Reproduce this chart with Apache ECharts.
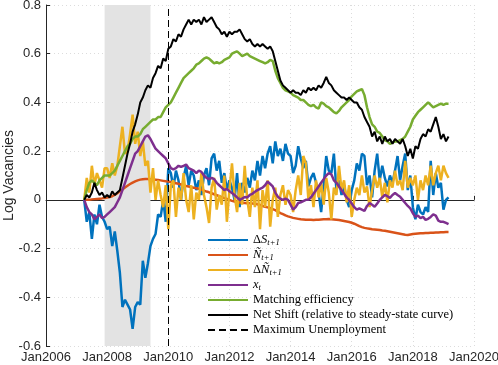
<!DOCTYPE html>
<html>
<head>
<meta charset="utf-8">
<script src="https://cdn.jsdelivr.net/npm/echarts@6/dist/echarts.min.js"></script>
<style>
  html, body { margin: 0; padding: 0; background: #fff; }
  #chart { width: 498px; height: 365px; }
</style>
</head>
<body>
<div id="chart"></div>
<script>
// monthly series, Apr 2007 .. Mar 2019
const startYear = 2007 + 3 / 12;

const deltaS = [
  0, -0.09, -0.05, -0.16, -0.06, -0.10, -0.02, -0.07, -0.09,
  -0.12, -0.11, -0.19, -0.13, -0.21, -0.30, -0.44, -0.41, -0.43, -0.45, -0.53, -0.44,
  -0.42, -0.43, -0.25, -0.32, -0.26, -0.19, -0.16, -0.14, -0.06, -0.07, 0.00, -0.09,
  0.13, 0.11, 0.05, 0.12, 0.08, 0.00, 0.09, 0.14, 0.06, 0.12, 0.10, 0.04,
  0.08, 0.02, 0.10, 0.13, 0.06, 0.17, 0.19, 0.12, 0.16, 0.07, 0.11, 0.04,
  0.08, 0.05, 0.00, 0.11, -0.03, 0.07, 0.03, 0.09, 0.05, 0.12, 0.08, 0.16,
  0.10, 0.18, 0.13, 0.19, 0.22, 0.15, 0.24, 0.18, 0.21, 0.16, 0.23, 0.19,
  0.18, 0.11, 0.14, 0.22, 0.17, 0.13, 0.16, 0.055, 0.09, 0.11, 0.07, 0.03,
  -0.05, 0.06, 0.18, 0.12, 0.11, 0.19, 0.04, 0.08, 0.02, 0.06, 0.00, -0.03,
  0.04, 0.08, 0.15, 0.12, 0.19, 0.18, 0.06, 0.10, 0.01, 0.12, 0.19, 0.08,
  0.14, 0.09, 0.055, 0.10, 0.07, 0.12, 0.18, 0.08, 0.14, 0.19, 0.04, 0.10,
  -0.03, -0.08, -0.02, -0.05, -0.06, -0.03, -0.05, 0.16, 0.02, 0.11, 0.05, 0.07,
  -0.04, 0.00, 0.01
];

const nTilde = [
  0, 0, 0, 0.002, 0.003, 0.004, 0.005, 0.006, 0.008,
  0.010, 0.012, 0.015, 0.020, 0.027, 0.035, 0.043, 0.051, 0.058, 0.065, 0.071, 0.076,
  0.080, 0.083, 0.085, 0.086, 0.086, 0.085, 0.084, 0.083, 0.082, 0.080, 0.078, 0.076,
  0.075, 0.073, 0.070, 0.068, 0.066, 0.063, 0.060, 0.057, 0.055, 0.052, 0.050, 0.048,
  0.046, 0.042, 0.038, 0.034, 0.031, 0.027, 0.023, 0.019, 0.015, 0.011, 0.007, 0.004,
  0.000, -0.004, -0.007, -0.009, -0.011, -0.012, -0.013, -0.014, -0.014, -0.015, -0.016, -0.018,
  -0.021, -0.025, -0.028, -0.031, -0.034, -0.038, -0.042, -0.048, -0.054, -0.059, -0.064, -0.068,
  -0.071, -0.074, -0.076, -0.078, -0.080, -0.081, -0.082, -0.082, -0.082, -0.083, -0.082, -0.082,
  -0.081, -0.080, -0.080, -0.079, -0.080, -0.081, -0.082, -0.083, -0.085, -0.087, -0.089, -0.091,
  -0.094, -0.098, -0.103, -0.108, -0.112, -0.115, -0.117, -0.119, -0.121, -0.122, -0.123, -0.124,
  -0.126, -0.127, -0.129, -0.131, -0.133, -0.135, -0.137, -0.139, -0.141, -0.143, -0.144, -0.142,
  -0.140, -0.139, -0.138, -0.137, -0.137, -0.136, -0.136, -0.135, -0.135, -0.134, -0.134, -0.133,
  -0.133, -0.132, -0.132
];

const deltaN = [
  0, 0.09, 0.03, 0.14, 0.06, 0.11, 0.08, 0.05, 0.13,
  0.13, 0.09, 0.15, 0.10, 0.14, 0.22, 0.30, 0.19, 0.20, 0.27, 0.35, 0.23,
  0.28, 0.18, 0.24, 0.14, 0.16, 0.03, 0.13, 0.00, 0.08, 0.02, -0.03, 0.06,
  -0.12, 0.06, 0.08, -0.07, 0.05, 0.00, 0.11, 0.00, -0.05, 0.06, -0.08, 0.03,
  0.00, 0.11, 0.02, -0.03, -0.095, 0.05, 0.09, -0.04, 0.02, -0.02, 0.10, -0.09,
  0.04, 0.15, 0.02, -0.05, 0.07, -0.02, 0.14, 0.00, -0.07, 0.05, -0.03, 0.08,
  -0.12, 0.04, -0.03, 0.08, -0.11, 0.00, 0.05, -0.07, 0.02, 0.06, -0.02, 0.04,
  0.02, -0.05, 0.04, 0.10, 0.02, 0.18, 0.15, 0.00, 0.06, -0.03, 0.08, 0.01,
  0.07, -0.02, 0.09, 0.03, -0.08, 0.05, 0.02, 0.14, 0.04, 0.08, -0.01, 0.06,
  -0.07, 0.00, 0.05, 0.02, 0.10, 0.03, 0.055, -0.03, 0.04, 0.10, 0.05, 0.09,
  0.01, 0.07, -0.01, 0.08, 0.05, 0.12, 0.06, 0.08, 0.04, 0.16, 0.05, 0.09,
  0.06, 0.10, 0.00, 0.08, 0.04, 0.10, 0.06, 0.14, 0.06, 0.11, 0.14, 0.08,
  0.14, 0.11, 0.09
];

const xT = [
  0, -0.03, -0.05, -0.06, -0.08, -0.07, -0.06, -0.075, -0.07,
  -0.06, -0.05, -0.04, -0.03, -0.01, 0.01, 0.04, 0.07, 0.10, 0.13, 0.16, 0.19,
  0.20, 0.22, 0.24, 0.26, 0.265, 0.25, 0.23, 0.21, 0.20, 0.19, 0.18, 0.17,
  0.15, 0.13, 0.125, 0.13, 0.14, 0.135, 0.14, 0.145, 0.13, 0.125, 0.12, 0.11,
  0.12, 0.115, 0.10, 0.09, 0.085, 0.09, 0.085, 0.07, 0.06, 0.05, 0.04, 0.045,
  0.035, 0.028, 0.02, 0.01, 0.00, 0.005, 0.012, 0.01, 0.02, 0.025, 0.033, 0.04,
  0.045, 0.05, 0.06, 0.075, 0.065, 0.055, 0.03, 0.013, 0.005, 0.00, 0.005, 0.00,
  -0.02, -0.04, -0.03, -0.013, -0.01, -0.005, 0.00, 0.00, 0.01, 0.025, 0.04, 0.055,
  0.07, 0.085, 0.10, 0.11, 0.105, 0.08, 0.07, 0.055, 0.04, 0.025, 0.01, 0.00,
  -0.015, -0.03, -0.04, -0.035, -0.04, -0.045, -0.025, -0.013, -0.02, -0.028, -0.015, 0.00,
  0.01, 0.02, 0.015, 0.008, 0.02, 0.028, 0.02, 0.013, 0.00, -0.013, -0.025, -0.035,
  -0.055, -0.07, -0.065, -0.075, -0.07, -0.082, -0.078, -0.07, -0.06, -0.065, -0.085, -0.09,
  -0.09, -0.095, -0.10
];

const matchEff = [
  0, 0.04, 0.07, 0.08, 0.07, 0.06, 0.08, 0.09, 0.10,
  0.10, 0.10, 0.11, 0.12, 0.14, 0.16, 0.18, 0.20, 0.22, 0.23, 0.25, 0.26,
  0.26, 0.27, 0.29, 0.30, 0.31, 0.32, 0.33, 0.33, 0.34, 0.34, 0.36, 0.38,
  0.39, 0.40, 0.42, 0.44, 0.46, 0.48, 0.50, 0.51, 0.52, 0.53, 0.54, 0.555,
  0.56, 0.57, 0.58, 0.585, 0.58, 0.57, 0.56, 0.565, 0.56, 0.565, 0.575, 0.58,
  0.585, 0.60, 0.605, 0.61, 0.60, 0.59, 0.595, 0.60, 0.59, 0.585, 0.58, 0.575,
  0.57, 0.565, 0.56, 0.565, 0.575, 0.57, 0.53, 0.50, 0.48, 0.46, 0.45, 0.445,
  0.44, 0.43, 0.425, 0.42, 0.41, 0.41, 0.40, 0.39, 0.385, 0.39, 0.38, 0.375,
  0.40, 0.395, 0.385, 0.38, 0.37, 0.36, 0.355, 0.365, 0.38, 0.39, 0.40, 0.41,
  0.425, 0.435, 0.445, 0.45, 0.455, 0.43, 0.38, 0.34, 0.31, 0.30, 0.28, 0.275,
  0.26, 0.245, 0.24, 0.23, 0.235, 0.24, 0.24, 0.245, 0.25, 0.26, 0.28, 0.30,
  0.33, 0.345, 0.36, 0.37, 0.38, 0.39, 0.40, 0.39, 0.38, 0.385, 0.39, 0.395,
  0.39, 0.395, 0.395
];

const netShift = [
  0, 0.02, 0.01, 0.03, 0.07, 0.04, 0.02, 0.03, 0.01,
  0.02, 0.01, 0.035, 0.02, 0.03, 0.04, 0.09, 0.14, 0.19, 0.23, 0.28, 0.31,
  0.35, 0.40, 0.42, 0.45, 0.47, 0.46, 0.50, 0.52, 0.55, 0.54, 0.58, 0.57,
  0.62, 0.63, 0.66, 0.65, 0.68, 0.67, 0.70, 0.72, 0.74, 0.72, 0.74, 0.73,
  0.74, 0.72, 0.75, 0.73, 0.74, 0.75, 0.73, 0.71, 0.70, 0.68, 0.69, 0.67,
  0.69, 0.68, 0.69, 0.69, 0.70, 0.68, 0.66, 0.65, 0.66, 0.64, 0.63, 0.64,
  0.63, 0.64, 0.63, 0.62, 0.63, 0.61, 0.57, 0.53, 0.49, 0.47, 0.46, 0.45,
  0.44, 0.45, 0.44, 0.44, 0.43, 0.45, 0.44, 0.46, 0.45, 0.46, 0.45, 0.47,
  0.46, 0.48, 0.505, 0.48, 0.47, 0.45, 0.44, 0.43, 0.42, 0.42, 0.41, 0.42,
  0.41, 0.40, 0.40, 0.38, 0.37, 0.34, 0.32, 0.30, 0.26, 0.28, 0.24, 0.26,
  0.23, 0.26, 0.24, 0.25, 0.23, 0.25, 0.24, 0.23, 0.25, 0.22, 0.18, 0.21,
  0.17, 0.22, 0.21, 0.25, 0.27, 0.26, 0.29, 0.28, 0.31, 0.34, 0.30, 0.25,
  0.27, 0.24, 0.26
];

const recession = [2007 + 11 / 12, 2009 + 5 / 12];
const maxUnemployment = 2010;
const yTicks = { min: -0.6, max: 0.8, step: 0.2 };
const xTicks = { min: 2006, max: 2020, step: 2 };

function toPairs(arr) {
  return arr.map((v, i) => [startYear + i / 12, v]);
}

const serif = 'Liberation Serif';
const sans = 'Liberation Sans';

const legendText = {
  dS: '{n|Δ}{i|S}{s|t+1}',
  nT: '{i|Ñ}{s|t+1}',
  dN: '{n|Δ}{i|Ñ}{s|t+1}',
  x: '{i|x}{s|t}'
};

const chart = echarts.init(document.getElementById('chart'));

function lineSeries(name, data, color, width) {
  return {
    name: name,
    type: 'line',
    data: toPairs(data),
    showSymbol: false,
    symbol: 'none',
    lineStyle: { color: color, width: width },
    itemStyle: { color: color },
    animation: false
  };
}

chart.setOption({
  animation: false,
  grid: { left: 46, right: 24, top: 5, bottom: 19, outerBoundsMode: 'none', containLabel: false },
  xAxis: {
    type: 'value',
    min: xTicks.min,
    max: xTicks.max,
    interval: xTicks.step,
    axisLine: { lineStyle: { color: '#262626', width: 1 } },
    axisTick: { inside: true, length: 4, lineStyle: { color: '#262626' } },
    axisLabel: {
      color: '#262626', fontFamily: sans, fontSize: 13, margin: 5,
      formatter: v => 'Jan' + v
    },
    splitLine: { show: true, lineStyle: { color: '#dcdcdc', type: [1, 3] } }
  },
  yAxis: {
    type: 'value',
    min: yTicks.min,
    max: yTicks.max,
    interval: yTicks.step,
    name: 'Log Vacancies',
    nameLocation: 'middle',
    nameGap: 30,
    nameMoveOverlap: false,
    nameTextStyle: { color: '#262626', fontFamily: sans, fontSize: 14 },
    axisLine: { show: true, lineStyle: { color: '#262626', width: 1 } },
    axisTick: { show: true, inside: true, length: 4, lineStyle: { color: '#262626' } },
    axisLabel: {
      color: '#262626', fontFamily: sans, fontSize: 13, margin: 5,
      formatter: v => {
        const r = Math.round(v * 10) / 10;
        return r === 0 ? '0' : r.toFixed(1);
      }
    },
    splitLine: { show: true, lineStyle: { color: '#dcdcdc', type: [1, 3] } }
  },
  legend: {
    orient: 'vertical',
    left: 202,
    top: 228,
    itemWidth: 40,
    itemHeight: 14,
    itemGap: 1,
    itemStyle: { opacity: 0 },
    data: ['dS', 'nT', 'dN', 'x', 'Matching efficiency',
      'Net Shift (relative to steady-state curve)', 'Maximum Unemployment'],
    formatter: name => legendText[name] || name,
    textStyle: {
      fontFamily: serif, fontSize: 12.5, color: '#000', lineHeight: 14,
      rich: {
        n: { fontFamily: serif, fontSize: 12.5, lineHeight: 14 },
        i: { fontFamily: serif, fontSize: 12.5, fontStyle: 'italic', lineHeight: 14 },
        s: { fontFamily: serif, fontSize: 8.5, fontStyle: 'italic', lineHeight: 8, verticalAlign: 'bottom' }
      }
    }
  },
  series: [
    {
      name: 'recession',
      type: 'line',
      data: [],
      z: 1,
      silent: true,
      markArea: {
        silent: true,
        itemStyle: { color: '#e3e3e3' },
        data: [[{ xAxis: recession[0] }, { xAxis: recession[1] }]]
      }
    },
    lineSeries('dS', deltaS, '#0072BD', 2.5),
    lineSeries('nT', nTilde, '#D95319', 2.5),
    lineSeries('dN', deltaN, '#EDB120', 2.5),
    lineSeries('x', xT, '#7E2F8E', 2.5),
    lineSeries('Matching efficiency', matchEff, '#77AC30', 2.5),
    lineSeries('Net Shift (relative to steady-state curve)', netShift, '#000000', 2),
    {
      name: 'Maximum Unemployment',
      type: 'line',
      data: [],
      symbol: 'none',
      lineStyle: { color: '#000', width: 1, type: [7, 4] },
      itemStyle: { color: '#000' },
      markLine: {
        silent: true,
        symbol: 'none',
        label: { show: false },
        lineStyle: { color: '#000', width: 1, type: [7, 4] },
        data: [{ xAxis: maxUnemployment }]
      }
    }
  ]
});
</script>
</body>
</html>
